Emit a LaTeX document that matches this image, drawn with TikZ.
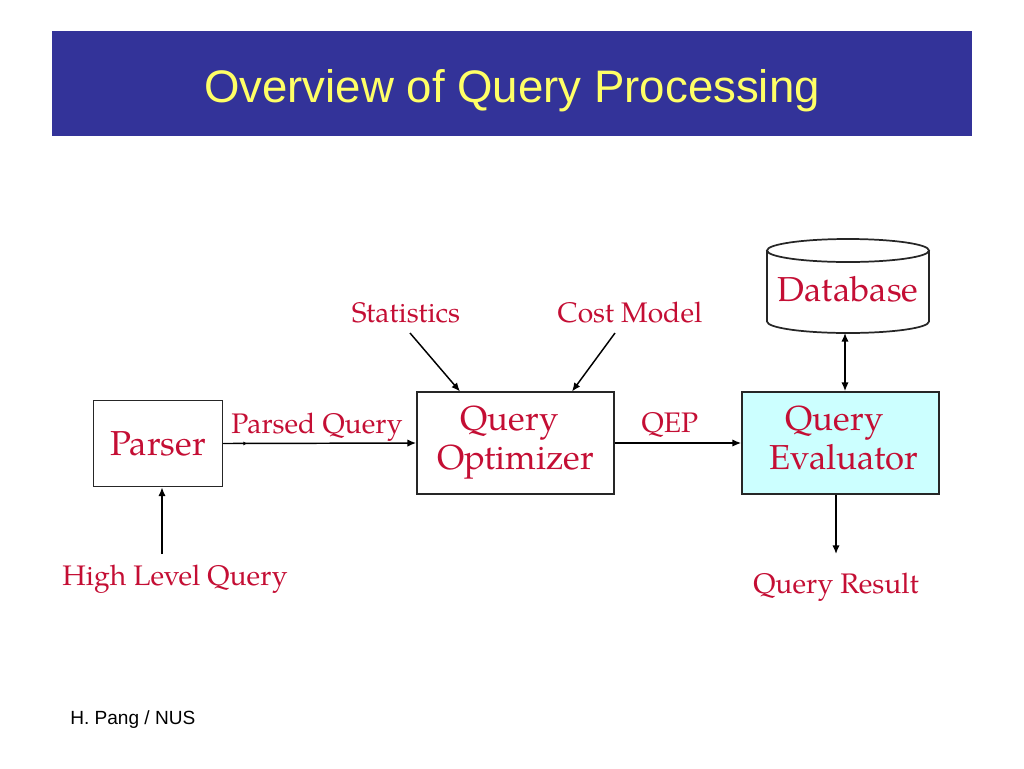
\documentclass[tikz,border=0pt]{standalone}
\usepackage{fontspec}
\setmainfont{TeX Gyre Pagella}
\newfontfamily\titlefont{Liberation Sans}
\usetikzlibrary{arrows.meta}
\definecolor{lbl}{RGB}{196,14,52}
\definecolor{banner}{RGB}{51,51,153}
\definecolor{titleyellow}{RGB}{255,255,102}
\definecolor{evalfill}{RGB}{204,255,255}
\begin{document}
\begin{tikzpicture}[x=0.75pt,y=-0.75pt,
  boxnode/.style={draw=black!85, line width=1.3pt, inner sep=0pt, align=center,
    text=lbl, font=\fontsize{26}{29.25}\selectfont},
  conn/.style={line width=1.1pt, -{Latex[length=6.5pt,width=5.5pt]}},
  dconn/.style={line width=1.1pt, {Latex[length=6.5pt,width=5.5pt]}-{Latex[length=6.5pt,width=5.5pt]}},
  lab/.style={text=lbl, font=\fontsize{21.2}{24}\selectfont, anchor=base, inner sep=0pt}]
\useasboundingbox (0,0) rectangle (1024,768);
% title banner
\fill[banner] (52,31) rectangle (972,136);
\node[anchor=base, inner sep=0pt, text=titleyellow, font=\titlefont\fontsize{34.2}{38}\selectfont] (title) at (512,102) {Overview of Query Processing};
% boxes
\node[boxnode, minimum width=96.75pt, minimum height=64.5pt] (parser) at (158,443.5) {Parser};
\node[boxnode, minimum width=147.75pt, minimum height=76.5pt] (opt) at (515.5,443) {Query\hspace*{9pt}\\Optimizer};
\node[boxnode, fill=evalfill, minimum width=147.75pt, minimum height=76.5pt] (eval) at (840.5,443) {Query\hspace*{9pt}\\\hspace*{5pt}Evaluator\vphantom{p}};
% database cylinder
\draw[draw=black!85, line width=1.3pt, fill=white] (767,250.5) -- (767,321.5) arc[start angle=180, end angle=0, x radius=81, y radius=11.5] -- (929,250.5);
\draw[draw=black!85, line width=1.3pt] (848,250.5) ellipse[x radius=81, y radius=11.5];
\node[text=lbl, font=\fontsize{26}{29.25}\selectfont, anchor=base, inner sep=0pt] (db) at (848,301) {Database};
\coordinate (dbbot) at (845,333);
% labels
\node[lab] (parsed) at (317,433) {Parsed Query};
\node[lab] (stats) at (406,322) {Statistics};
\node[lab] (cost) at (630,322) {Cost Model};
\node[lab] (qep) at (670,432) {QEP};
\node[lab] (hlq) at (175,585) {High Level Query};
\node[lab] (qres) at (836,593) {Query Result};
\node[anchor=base west, inner sep=0pt, font=\titlefont\fontsize{14.3}{17}\selectfont] (foot) at (70,724) {H. Pang / NUS};
% connectors
\draw[line width=1.1pt, -{Latex[length=3pt,width=3pt]}] (parser.east) -- ++(24,0);
\draw[conn] (parser.east) -- (opt.west);
\draw[conn] (opt.east) -- (eval.west);
\draw[conn] (410,333) -- (460,391.5);
\draw[conn] (615,333) -- (572,391.5);
\draw[conn] (162,554) -- (parser.south -| 162,0);
\draw[conn] (eval.south -| 836,0) -- (836,554);
\draw[dconn] (dbbot) -- (eval.north -| 845,0);
\end{tikzpicture}
\end{document}
